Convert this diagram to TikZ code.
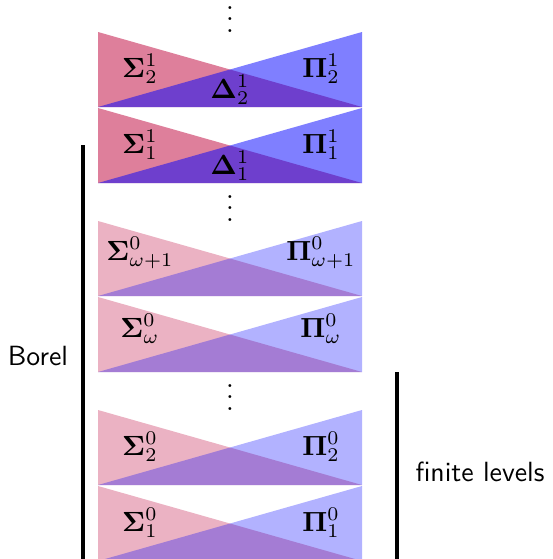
\documentclass[tikz,border=0pt]{standalone}
\usepackage{amsmath,amssymb}
\usepackage{xcolor}
\usepackage{tikz}
\usetikzlibrary{positioning}
\definecolor{sigmared}{RGB}{189,0,55}

\begin{document}
\begin{tikzpicture}[x=0.36pt,y=-0.36pt,
		sigmatri/.style={fill=sigmared,fill opacity=#1},
		pitri/.style={fill=blue,fill opacity=#1},
		lvl/.style={anchor=base,inner sep=0pt},
		bar/.style={line width=1.45pt}]
			
			\useasboundingbox (0,0) rectangle (552,559);
			
			\node[lvl] (dotsA) at (230,32) {$\vdots$};
			
			\fill[sigmatri=0.5] (98,32) -- (98,107) -- (362,107) -- cycle;
			\fill[pitri=0.5] (362,32) -- (362,107) -- (98,107) -- cycle;
			\node[lvl] (s12) at (140,77) {$\mathbf{\Sigma}^1_2$};
			\node[lvl] (p12) at (321,77) {$\mathbf{\Pi}^1_2$};
			\node[lvl] (d12) at (230,98) {$\mathbf{\Delta}^1_2$};
			
			\fill[sigmatri=0.5] (98,108) -- (98,183) -- (362,183) -- cycle;
			\fill[pitri=0.5] (362,108) -- (362,183) -- (98,183) -- cycle;
			\node[lvl] (s11) at (140,153) {$\mathbf{\Sigma}^1_1$};
			\node[lvl] (p11) at (321,153) {$\mathbf{\Pi}^1_1$};
			\node[lvl] (d11) at (230,174) {$\mathbf{\Delta}^1_1$};
			
			\node[lvl] (dotsB) at (230,221) {$\vdots$};
			
			\fill[sigmatri=0.3] (98,221) -- (98,296) -- (362,296) -- cycle;
			\fill[pitri=0.3] (362,221) -- (362,296) -- (98,296) -- cycle;
			\node[lvl] (s0w1) at (140,260) {$\mathbf{\Sigma}^0_{\omega+1}$};
			\node[lvl] (p0w1) at (321,260) {$\mathbf{\Pi}^0_{\omega+1}$};
			
			\fill[sigmatri=0.3] (98,297) -- (98,372) -- (362,372) -- cycle;
			\fill[pitri=0.3] (362,297) -- (362,372) -- (98,372) -- cycle;
			\node[lvl] (s0w) at (140,337) {$\mathbf{\Sigma}^0_{\omega}$};
			\node[lvl] (p0w) at (321,337) {$\mathbf{\Pi}^0_{\omega}$};
			
			\node[lvl] (dotsC) at (230,410) {$\vdots$};
			
			\fill[sigmatri=0.3] (98,410) -- (98,485) -- (362,485) -- cycle;
			\fill[pitri=0.3] (362,410) -- (362,485) -- (98,485) -- cycle;
			\node[lvl] (s02) at (140,455) {$\mathbf{\Sigma}^0_2$};
			\node[lvl] (p02) at (321,455) {$\mathbf{\Pi}^0_2$};
			
			\fill[sigmatri=0.3] (98,486) -- (98,561) -- (362,561) -- cycle;
			\fill[pitri=0.3] (362,486) -- (362,561) -- (98,561) -- cycle;
			\node[lvl] (s01) at (140,531) {$\mathbf{\Sigma}^0_1$};
			\node[lvl] (p01) at (321,531) {$\mathbf{\Pi}^0_1$};
			
			\coordinate (boreltop) at (83,145);
			\coordinate (borelbot) at (83,561);
			\draw[bar] (boreltop) -- (borelbot);
			\node[lvl,font=\sffamily] (borel) at (38,365) {Borel};
			
			\coordinate (finitetop) at (397,372);
			\coordinate (finitebot) at (397,561);
			\draw[bar] (finitetop) -- (finitebot);
			\node[lvl,font=\sffamily] (finite) at (480,481) {finite levels};
			
		\end{tikzpicture}
\end{document}
